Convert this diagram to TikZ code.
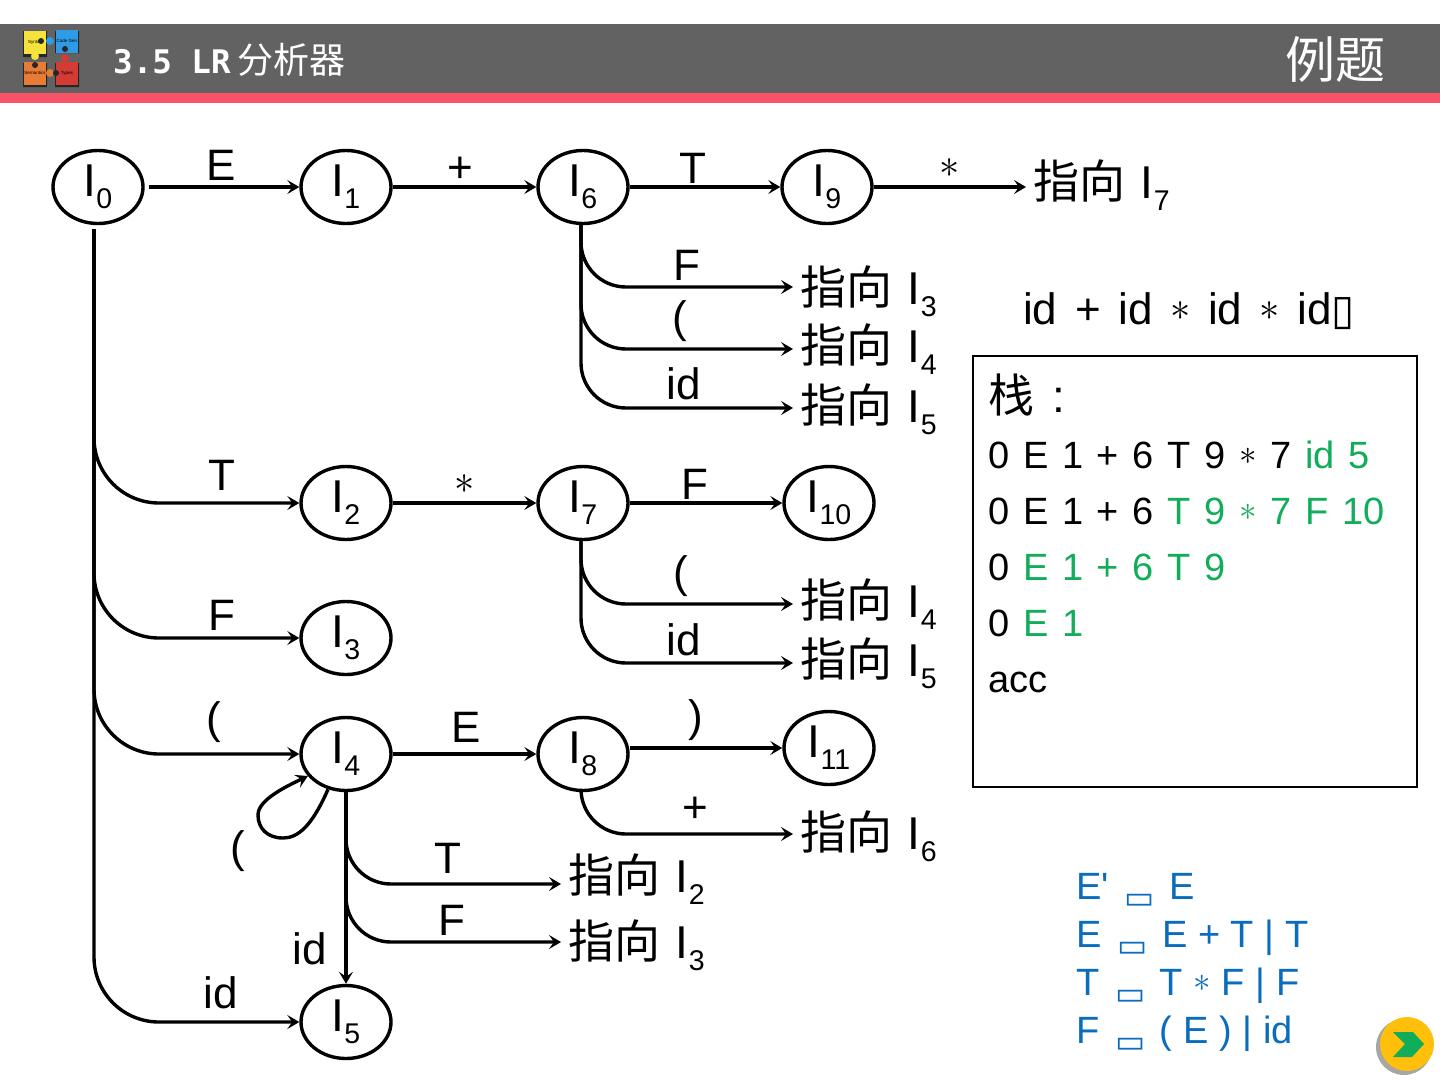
\documentclass[tikz,border=0pt]{standalone}
\usepackage{amsmath}
\usepackage{graphicx}
\usepackage{fontspec}
\setmainfont{Liberation Sans}
\newfontfamily\cjk{Noto Sans CJK SC}
\newfontfamily\symfont{DejaVu Sans}
\newfontfamily\titlefont[BoldFont={DejaVu Sans Mono Bold}]{DejaVu Sans Mono}
\usetikzlibrary{arrows.meta, positioning, shapes.geometric, calc}

\definecolor{barGray}{HTML}{626262}
\definecolor{barRed}{HTML}{F95465}
\definecolor{stackGreen}{HTML}{12AD5A}
\definecolor{gramBlue}{HTML}{0A6CBC}
\definecolor{nextGold}{HTML}{FFBF0A}
\definecolor{logoYellow}{HTML}{F5E33B}
\definecolor{logoBlue}{HTML}{2E9BE6}
\definecolor{logoOrange}{HTML}{E87B35}
\definecolor{logoRed}{HTML}{D33B33}
\newcommand{\stname}[1]{I\raisebox{-.26em}{\scalebox{.62}{#1}}}
\newcommand{\ptr}[1]{{\cjk 指向}\hspace{3pt} \stname{#1}}
\newcommand{\str}{\raisebox{.08em}{\resizebox{.46em}{!}{$\ast$}}}
\newcommand{\yields}{\hspace{5pt}\raisebox{-9pt}{\symfont\fontsize{32}{32}\selectfont ▭}\hspace{4pt}}
\newcommand{\widesp}{\spaceskip .36em\relax}
\newcommand{\gramsp}{\spaceskip .28em\relax}
\newcommand{\inputsp}{\spaceskip .4em\relax}

\begin{document}
\begin{tikzpicture}[
    x=1pt, y=-1pt,
    node distance=100pt and 100pt,
    on grid,
    state/.style={ellipse, draw, line width=3.4pt, minimum width=90pt, minimum height=73pt, inner sep=0pt, font=\fontsize{46}{46}\selectfont},
    target/.style={anchor=west, inner sep=0pt, font=\fontsize{46}{46}\selectfont},
    lab/.style={inner sep=0pt, font=\fontsize{44}{44}\selectfont},
    arrow/.style={-{Stealth[length=12pt, width=14pt, inset=5pt]}, line width=3.4pt},
    branch/.style={arrow, rounded corners=45pt},
    trunk/.style={arrow, rounded corners=65pt},
    toptr/.style={shorten >=7pt},
    stackline/.style={anchor=base west, inner sep=0pt, font=\fontsize{38}{38}\selectfont\widesp},
    gramline/.style={anchor=base west, inner sep=0pt, text=gramBlue, font=\fontsize{38}{38}\selectfont\gramsp},
    piece/.style={inner sep=0pt, minimum width=22pt, minimum height=23pt, font=\fontsize{4.5}{4.5}\selectfont}
]
    \useasboundingbox (0,0) rectangle (1440,1080);

    % Header bar
    \fill[barGray] (0,24) rectangle (1440,93);
    \fill[barRed] (0,93) rectangle (1440,103);
    \node[anchor=west, inner sep=0pt, text=white, font=\fontsize{36}{36}\selectfont] (title) at (113,60) {{\titlefont\bfseries\fontsize{32.5}{32.5}\selectfont 3.5 LR}\hspace{7pt}{\cjk 分析器}};
    \node[inner sep=0pt, text=white, font=\fontsize{50}{50}\selectfont\cjk] (topic) at (1335,60) {例题};

    % Logo
    \fill[black!85] (23,31) rectangle (47,57) (55,31) rectangle (79,53) (23,63) rectangle (47,87) (55,63) rectangle (79,87);
    \node[piece, fill=logoYellow] (logoA) at (35,42) {Syntax};
    \node[piece, fill=logoBlue] (logoB) at (67,41) {Code Gen};
    \node[piece, fill=logoOrange] (logoC) at (35,73) {Semantics};
    \node[piece, fill=logoRed] (logoD) at (67,73) {Types};
    \fill[logoBlue] (50,41) circle (4pt);
    \fill[logoYellow] (35,56) circle (4pt);
    \fill[logoOrange] (50,73) circle (4pt);
    \fill[logoRed] (65,58) circle (4pt);
    \fill[black!85] (41,41) circle (3pt) (35,65) circle (3pt) (65,49) circle (3pt) (56,73) circle (3pt);

    % States
    \node[state] (I0) at (98,187) {\stname{0}};
    \node[state, right=248pt of I0] (I1) {\stname{1}};
    \node[state, right=237pt of I1] (I6) {\stname{6}};
    \node[state, right=244pt of I6] (I9) {\stname{9}};
    \node[state, below=316pt of I1] (I2) {\stname{2}};
    \node[state, right=237pt of I2] (I7) {\stname{7}};
    \node[state, right=246pt of I7] (I10) {\stname{10}};
    \node[state, below=135pt of I2] (I3) {\stname{3}};
    \node[state, below=116pt of I3] (I4) {\stname{4}};
    \node[state, right=237pt of I4] (I8) {\stname{8}};
    \node[state, above right=6pt and 246pt of I8] (I11) {\stname{11}};
    \node[state, below=268pt of I4] (I5) {\stname{5}};

    % Pointers to other states
    \node[target] (to7) at (1033,185) {\ptr{7}};
    \node[target] (to3a) at (800,291) {\ptr{3}};
    \node[target] (to4a) at (800,349) {\ptr{4}};
    \node[target] (to5a) at (800,409) {\ptr{5}};
    \node[target] (to4b) at (800,604) {\ptr{4}};
    \node[target] (to5b) at (800,663) {\ptr{5}};
    \node[target] (to6) at (800,836) {\ptr{6}};
    \node[target] (to2) at (568,879) {\ptr{2}};
    \node[target] (to3b) at (568,945) {\ptr{3}};

    % Straight edges
    \draw[arrow, shorten <=4pt] (I0) -- (I1);
    \draw[arrow] (I1) -- (I6);
    \draw[arrow] (I6) -- (I9);
    \draw[arrow, toptr] (I9) -- (to7.west |- I9);
    \draw[arrow] (I2) -- (I7);
    \draw[arrow] (I7) -- (I10);
    \draw[arrow] (I4) -- (I8);
    \draw[arrow] (I8.east |- I11) -- (I11);
    \draw[arrow] (I4.south) -- (I5.north);

    % Branches out of I0
    \draw[trunk] ($(I0.south)+(-4,4)$) |- (I2.west);
    \draw[trunk] ($(I0.south)+(-4,4)$) |- (I3.west);
    \draw[trunk] ($(I0.south)+(-4,4)$) |- (I4.west);
    \draw[trunk] ($(I0.south)+(-4,4)$) |- (I5.west);

    % Branches out of I6, I7, I8, I4
    \draw[branch, toptr] ($(I6.south)+(-2,0)$) |- (to3a.west |- 0,287);
    \draw[branch, toptr] ($(I6.south)+(-2,0)$) |- (to4a.west |- 0,349);
    \draw[branch, toptr] ($(I6.south)+(-2,0)$) |- (to5a.west |- 0,408);
    \draw[branch, toptr] ($(I7.south)+(-2,0)$) |- (to4b.west |- 0,604);
    \draw[branch, toptr] ($(I7.south)+(-2,0)$) |- (to5b.west |- 0,663);
    \draw[branch, toptr] ($(I8.south)+(-2,0)$) |- (to6.west |- 0,834);
    \draw[branch, toptr] (I4.south) |- (to2.west |- 0,884);
    \draw[branch, toptr] (I4.south) |- (to3b.west |- 0,942);

    % Loop on I4
    \draw[arrow] (I4.-117) .. controls (312,826) and (298,838) .. (283,838) .. controls (267,838) and (258,828) .. (258,815) .. controls (258,800) and (285,787) .. (I4.-150);

    % Edge labels
    \node[lab] (lE0) at (221,165) {E};
    \node[lab] (lP1) at (460,170) {+};
    \node[lab] (lT6) at (693,168) {T};
    \node[lab] (lS9) at (950,170) {\str};
    \node[lab] (lF6) at (687,265) {F};
    \node[lab] (lL6) at (680,321) {(};
    \node[lab] (lI6) at (684,384) {id};
    \node[lab] (lT0) at (222,475) {T};
    \node[lab] (lS2) at (465,486) {\str};
    \node[lab] (lF7) at (695,484) {F};
    \node[lab] (lL7) at (681,576) {(};
    \node[lab] (lI7) at (684,640) {id};
    \node[lab] (lF0) at (222,615) {F};
    \node[lab] (lL0) at (214,722) {(};
    \node[lab] (lE4) at (466,727) {E};
    \node[lab] (lR8) at (696,720) {)};
    \node[lab] (lP8) at (695,810) {+};
    \node[lab] (lL4) at (238,851) {(};
    \node[lab] (lT4) at (448,858) {T};
    \node[lab] (lF4) at (452,920) {F};
    \node[lab] (lI4) at (310,949) {id};
    \node[lab] (lI0) at (221,993) {id};

    % Input string
    \node[anchor=base west, inner sep=0pt, font=\fontsize{44}{44}\selectfont\inputsp] (input) at (1023,324) {id + id \str{} id \str{} id{\symfont\fontsize{42}{42}\selectfont ▯}};

    % Stack box
    \node[draw, line width=2pt, minimum width=444pt, minimum height=431pt, inner sep=0pt] (stackbox) at (1195,571) {};
    \node[stackline, font=\fontsize{46}{46}\selectfont] (st0) at (988,412) {{\cjk 栈}\hspace{6pt} :};
    \node[stackline] (st1) at (988,468) {0 E 1 + 6 T 9 \str{} 7 \textcolor{stackGreen}{id 5}};
    \node[stackline] (st2) at (988,524) {0 E 1 + 6 \textcolor{stackGreen}{T 9 \str{} 7 F 10}};
    \node[stackline] (st3) at (988,580) {0 \textcolor{stackGreen}{E 1 + 6 T 9}};
    \node[stackline] (st4) at (988,636) {0 \textcolor{stackGreen}{E 1}};
    \node[stackline] (st5) at (988,692) {acc};

    % Grammar
    \node[gramline] (g1) at (1076,899) {E\textquotesingle\ \yields{} E};
    \node[gramline] (g2) at (1076,947) {E \yields{} E + T | T};
    \node[gramline] (g3) at (1076,995) {T \yields{} T \str{} F | F};
    \node[gramline] (g4) at (1076,1043) {F \yields{} ( E ) | id};

    % Next button
    \fill[black!35] (1404,1047) circle (28pt);
    \fill[nextGold] (1407,1044) circle (27pt);
    \fill[stackGreen] (1393,1032) -- (1413,1032) -- (1424,1044) -- (1412,1057) -- (1393,1057) -- (1405,1044) -- cycle;

\end{tikzpicture}
\end{document}
